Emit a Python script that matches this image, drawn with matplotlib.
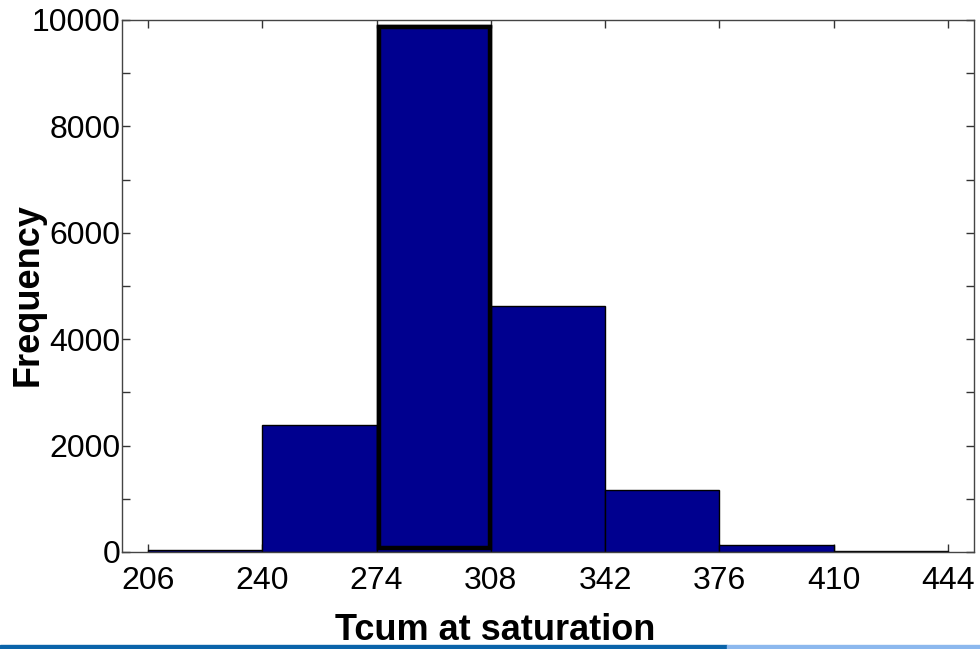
import matplotlib
matplotlib.use("Agg")
import matplotlib.pyplot as plt
from matplotlib.patches import Rectangle
import numpy as np

# Histogram of Tcum at saturation
bin_edges = [206, 240, 274, 308, 342, 376, 410, 444]
counts = [40, 2390, 9900, 4620, 1170, 130, 20]
x_ticks = [206, 240, 274, 308, 342, 376, 410, 444]
y_ticks = [0, 2000, 4000, 6000, 8000, 10000]

plt.rcParams['font.family'] = ['Liberation Sans', 'DejaVu Sans']

fig = plt.figure(figsize=(9.8, 6.49), dpi=100)
ax = fig.add_axes([0.1245, 0.1495, 0.8694, 0.8197])

edges = np.array(bin_edges, dtype=float)
widths = np.diff(edges)
ax.bar(edges[:-1], counts, width=widths, align='edge',
       color='#00008F', edgecolor='black', linewidth=1.0, zorder=2)

# Highlight the tallest bin with a heavy outline
k = int(np.argmax(counts))
ax.add_patch(Rectangle((edges[k] + 0.6, 80), widths[k] - 1.0, counts[k] - 120,
                       fill=False, edgecolor='black', linewidth=3.2, zorder=3))

ax.set_xlim(198.3, 451.7)
ax.set_ylim(0, 10000)
ax.set_xticks(x_ticks)
ax.set_yticks(y_ticks)
ax.set_yticks(np.arange(0, 10001, 1000), minor=True)
ax.tick_params(axis='both', which='both', direction='in', top=True, right=True,
               labelsize=23, color='#333333', width=1.0)
ax.tick_params(axis='x', which='major', length=6, pad=10)
ax.tick_params(axis='y', which='major', length=6, pad=1)
ax.tick_params(axis='y', which='minor', length=6)
ax.tick_params(axis='x', which='minor', bottom=False, top=False)
for s in ax.spines.values():
    s.set_color('#444444')
    s.set_linewidth(1.0)

ax.set_xlabel('Tcum at saturation', fontsize=26, fontweight='bold', va='center')
ax.xaxis.set_label_coords(0.438, -0.147)
ax.set_ylabel('Frequency', fontsize=26, fontweight='bold', va='center')
ax.yaxis.set_label_coords(-0.110, 0.483)

# Decorative stripe along the bottom edge
fig.patches.append(Rectangle((0, 0), 727 / 980, 4 / 649, transform=fig.transFigure,
                             color='#0A64AA', zorder=5))
fig.patches.append(Rectangle((727 / 980, 0), 1 - 727 / 980, 4 / 649,
                             transform=fig.transFigure, color='#8CB8EE', zorder=5))

fig.savefig('out.png', dpi=100)
